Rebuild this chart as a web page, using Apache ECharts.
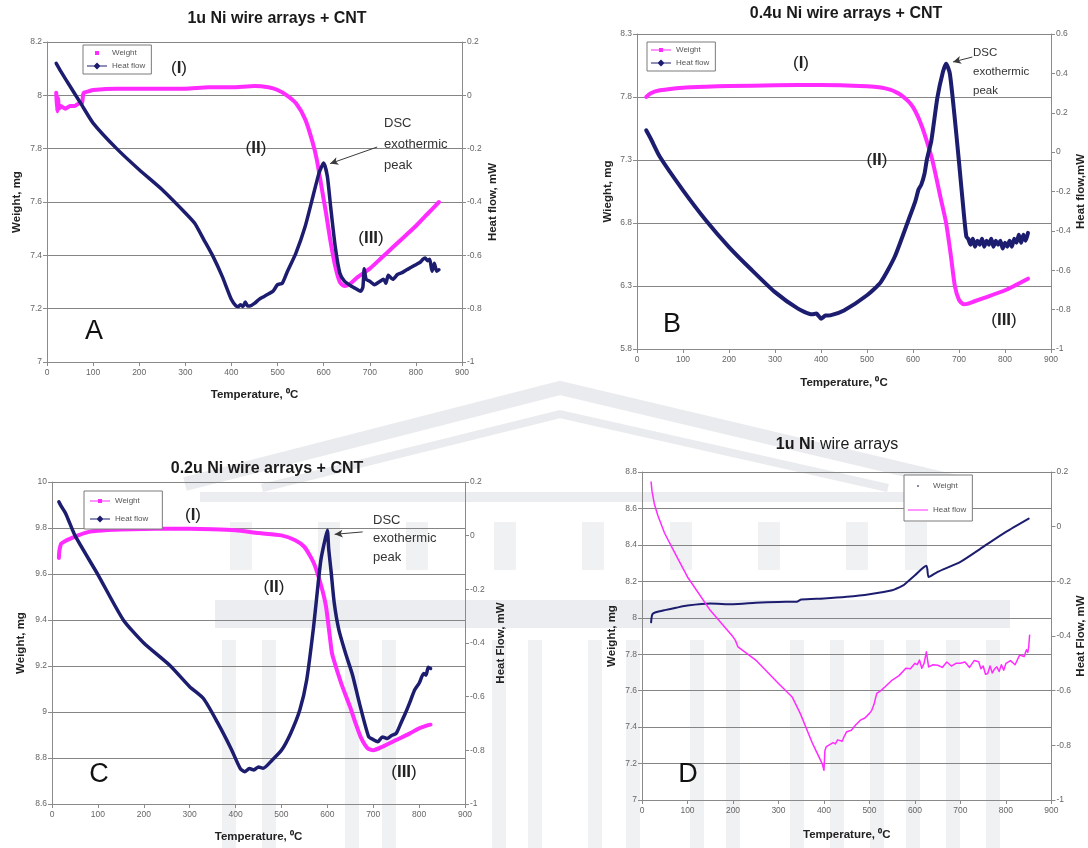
<!DOCTYPE html>
<html>
<head>
<meta charset="utf-8">
<title>Ni wire arrays - TGA / DSC</title>
<script src="https://cdn.jsdelivr.net/npm/echarts@6/dist/echarts.min.js"></script>
<style>
  html, body { margin: 0; padding: 0; background: #ffffff; }
  #chart { width: 1088px; height: 848px; }
</style>
</head>
<body>
<div id="chart"></div>
<script>
// ---------- data: temperature (°C), weight (mg), heat flow (mW) ----------
// A: 1u Ni wire arrays + CNT
const tempA_w = [20, 22, 24, 26, 30, 40, 50, 60, 70, 76, 78, 80, 90, 100, 150, 200, 250, 300, 350, 400, 450, 480, 500, 520, 540, 560, 575, 585, 595, 605, 615, 625, 635, 645, 655, 675, 700, 725, 750, 775, 800, 825, 850];
const weightA = [8.01, 7.94, 7.99, 7.95, 7.96, 7.95, 7.96, 7.96, 7.97, 7.97, 8.0, 8.01, 8.015, 8.02, 8.025, 8.025, 8.025, 8.025, 8.03, 8.03, 8.035, 8.03, 8.02, 8.0, 7.97, 7.91, 7.83, 7.76, 7.66, 7.56, 7.45, 7.36, 7.30, 7.285, 7.29, 7.32, 7.35, 7.39, 7.43, 7.47, 7.51, 7.555, 7.60];
const tempA_h = [20, 30, 50, 75, 100, 150, 200, 250, 300, 320, 340, 360, 380, 400, 410, 415, 420, 425, 430, 435, 440, 450, 460, 470, 480, 490, 500, 510, 520, 540, 560, 575, 590, 600, 608, 615, 625, 635, 645, 660, 670, 680, 685, 688, 692, 700, 710, 720, 730, 735, 740, 750, 760, 770, 780, 790, 800, 810, 815, 820, 825, 830, 835, 840, 845, 850];
const heatA = [0.12, 0.09, 0.034, -0.035, -0.104, -0.198, -0.279, -0.354, -0.441, -0.479, -0.541, -0.604, -0.679, -0.766, -0.79, -0.792, -0.785, -0.792, -0.775, -0.79, -0.79, -0.78, -0.765, -0.755, -0.745, -0.735, -0.71, -0.705, -0.666, -0.591, -0.491, -0.391, -0.291, -0.254, -0.304, -0.416, -0.566, -0.666, -0.697, -0.716, -0.725, -0.735, -0.72, -0.65, -0.69, -0.697, -0.71, -0.70, -0.69, -0.705, -0.675, -0.69, -0.672, -0.665, -0.654, -0.645, -0.635, -0.625, -0.615, -0.61, -0.62, -0.615, -0.66, -0.63, -0.66, -0.654];

// B: 0.4u Ni wire arrays + CNT
const tempB_w = [20, 30, 50, 100, 150, 200, 300, 400, 500, 530, 550, 565, 575, 590, 600, 610, 620, 630, 642, 650, 660, 672, 682, 691, 700, 710, 720, 750, 800, 850];
const weightB = [7.80, 7.83, 7.853, 7.874, 7.882, 7.887, 7.893, 7.895, 7.885, 7.875, 7.858, 7.835, 7.813, 7.765, 7.72, 7.65, 7.56, 7.45, 7.30, 7.17, 7.0, 6.80, 6.55, 6.30, 6.19, 6.155, 6.16, 6.2, 6.266, 6.358];
const tempB_h = [20, 30, 50, 100, 150, 200, 250, 300, 350, 380, 390, 400, 410, 420, 450, 500, 530, 560, 590, 605, 612, 618, 625, 630, 640, 653, 665, 672, 680, 690, 700, 710, 716, 720, 725, 730, 735, 740, 745, 750, 755, 760, 765, 770, 775, 780, 785, 790, 795, 800, 805, 810, 815, 820, 825, 830, 835, 840, 845, 850];
const heatB = [0.111, 0.068, -0.025, -0.194, -0.347, -0.482, -0.6, -0.711, -0.795, -0.824, -0.82, -0.846, -0.83, -0.829, -0.804, -0.727, -0.66, -0.533, -0.346, -0.25, -0.19, -0.165, -0.11, -0.04, 0.06, 0.277, 0.407, 0.449, 0.40, 0.19, -0.05, -0.30, -0.43, -0.44, -0.47, -0.44, -0.48, -0.45, -0.47, -0.44, -0.48, -0.45, -0.47, -0.44, -0.48, -0.45, -0.47, -0.45, -0.49, -0.46, -0.48, -0.45, -0.48, -0.44, -0.46, -0.42, -0.46, -0.42, -0.45, -0.41];

// C: 0.2u Ni wire arrays + CNT
const tempC_w = [15, 16, 18, 20, 30, 40, 60, 80, 100, 150, 200, 250, 300, 350, 400, 450, 500, 530, 550, 570, 585, 597, 609, 612, 631, 650, 660, 673, 688, 700, 720, 750, 780, 800, 820, 825];
const weightC = [9.67, 9.70, 9.72, 9.732, 9.745, 9.754, 9.77, 9.783, 9.788, 9.793, 9.796, 9.797, 9.797, 9.795, 9.79, 9.778, 9.768, 9.747, 9.718, 9.65, 9.56, 9.46, 9.27, 9.24, 9.12, 9.02, 8.96, 8.89, 8.842, 8.834, 8.849, 8.878, 8.907, 8.929, 8.943, 8.945];
const tempC_h = [15, 20, 30, 50, 100, 155, 200, 257, 300, 330, 360, 390, 410, 420, 430, 440, 450, 460, 480, 500, 520, 540, 555, 570, 580, 586, 593, 600, 603, 608, 615, 625, 640, 655, 670, 690, 700, 710, 720, 730, 740, 750, 760, 770, 780, 790, 800, 810, 815, 820, 825];
const heatC = [0.126, 0.11, 0.082, 0.001, -0.145, -0.313, -0.40, -0.484, -0.563, -0.607, -0.694, -0.793, -0.867, -0.88, -0.868, -0.873, -0.862, -0.867, -0.836, -0.80, -0.737, -0.65, -0.538, -0.34, -0.178, -0.09, -0.03, 0.02, -0.05, -0.13, -0.25, -0.35, -0.44, -0.52, -0.625, -0.749, -0.76, -0.768, -0.75, -0.756, -0.745, -0.737, -0.70, -0.662, -0.62, -0.576, -0.55, -0.514, -0.52, -0.49, -0.495];

// D: 1u Ni wire arrays (no CNT)
const tempD_w = [20, 21, 23, 30, 50, 75, 100, 150, 200, 250, 300, 340, 350, 400, 450, 500, 550, 575, 580, 600, 625, 627, 630, 650, 700, 750, 800, 850];
const weightD = [7.975, 8.0, 8.02, 8.03, 8.042, 8.055, 8.067, 8.078, 8.074, 8.082, 8.087, 8.088, 8.1, 8.106, 8.115, 8.129, 8.151, 8.179, 8.19, 8.233, 8.285, 8.27, 8.224, 8.252, 8.307, 8.389, 8.471, 8.544];
const tempD_h = [20, 22, 27, 35, 50, 75, 100, 150, 200, 205, 211, 215, 250, 300, 330, 348, 375, 396, 400, 402, 405, 410, 420, 425, 430, 440, 445, 450, 460, 470, 480, 490, 500, 505, 510, 516, 525, 535, 550, 565, 580, 590, 600, 605, 610, 615, 620, 625, 630, 640, 650, 660, 670, 680, 690, 700, 710, 720, 730, 740, 745, 750, 755, 760, 765, 770, 775, 780, 785, 790, 795, 800, 810, 820, 830, 840, 845, 848, 850, 852];
const heatD = [0.163, 0.13, 0.084, 0.04, -0.025, -0.105, -0.184, -0.306, -0.403, -0.415, -0.44, -0.445, -0.488, -0.574, -0.623, -0.684, -0.794, -0.867, -0.891, -0.82, -0.805, -0.8, -0.79, -0.795, -0.78, -0.785, -0.765, -0.75, -0.745, -0.725, -0.708, -0.70, -0.683, -0.672, -0.65, -0.61, -0.6, -0.585, -0.561, -0.545, -0.518, -0.52, -0.5, -0.505, -0.488, -0.518, -0.5, -0.458, -0.513, -0.505, -0.507, -0.515, -0.495, -0.51, -0.5, -0.5, -0.495, -0.515, -0.49, -0.494, -0.52, -0.51, -0.54, -0.537, -0.51, -0.535, -0.52, -0.513, -0.53, -0.505, -0.525, -0.5, -0.49, -0.505, -0.47, -0.475, -0.45, -0.46, -0.44, -0.397];

// axis ranges and titles
const panelTitles = ['1u Ni wire arrays + CNT', '0.4u Ni wire arrays + CNT', '0.2u Ni wire arrays + CNT', '1u Ni wire arrays'];
const weightAxisNames = ['Weight, mg', 'Wieght, mg', 'Weight, mg', 'Weight, mg'];
const heatAxisNames = ['Heat flow, mW', 'Heat flow,mW', 'Heat Flow, mW', 'Heat Flow, mW'];
const weightRanges = [[7, 8.2, 0.2], [5.8, 8.3, 0.5], [8.6, 10, 0.2], [7, 8.8, 0.2]];
const heatRanges = [[-1, 0.2, 0.2], [-1, 0.6, 0.2], [-1, 0.2, 0.2], [-1, 0.2, 0.2]];
const tempRange = [0, 900, 100];
const tempAxisName = 'Temperature, \u2070C';

// ---------- styling ----------
const MAG = '#ff2bff';
const NAVY = '#1d1d70';
const AXIS = '#8a8a8a';
const FONT = '"Liberation Sans", Arial, sans-serif';

const pairs = (xs, ys) => xs.map((x, i) => [x, ys[i]]);

// plot rectangles of the four panels
const grids = [
  { left: 47, top: 42, width: 415, height: 320 },
  { left: 637, top: 34, width: 415, height: 315 },
  { left: 52, top: 482, width: 413, height: 322 },
  { left: 642, top: 472, width: 410, height: 328 }
];
const nameGaps = [
  { x: 27, l: 24, r: 25 },
  { x: 28, l: 23, r: 24 },
  { x: 27, l: 25, r: 30 },
  { x: 29, l: 24, r: 22 }
];

const xAxes = grids.map((g, i) => ({
  type: 'value', gridIndex: i,
  min: tempRange[0], max: tempRange[1], interval: tempRange[2],
  name: tempAxisName, nameLocation: 'middle', nameGap: nameGaps[i].x,
  nameTextStyle: { fontFamily: FONT, fontWeight: 'bold', fontSize: 11.5, color: '#222' },
  axisLine: { show: true, onZero: false, lineStyle: { color: AXIS, width: 1 } },
  axisTick: { show: true, length: 4, lineStyle: { color: AXIS } },
  axisLabel: { fontFamily: FONT, fontSize: 8.5, color: '#666', margin: 6 },
  splitLine: { show: false }
}));

const yAxes = [];
grids.forEach((g, i) => {
  const w = weightRanges[i], h = heatRanges[i];
  yAxes.push({
    type: 'value', gridIndex: i, position: 'left',
    min: w[0], max: w[1], interval: w[2],
    name: weightAxisNames[i], nameLocation: 'middle', nameGap: nameGaps[i].l, nameRotate: 90,
    nameTextStyle: { fontFamily: FONT, fontWeight: 'bold', fontSize: 11.5, color: '#222' },
    axisLine: { show: true, lineStyle: { color: AXIS, width: 1 } },
    axisTick: { show: true, length: 4, lineStyle: { color: AXIS } },
    axisLabel: { fontFamily: FONT, fontSize: 8.5, color: '#666', margin: 5 },
    splitLine: { show: true, lineStyle: { color: '#858585', width: 1.2 } }
  });
  yAxes.push({
    type: 'value', gridIndex: i, position: 'right',
    min: h[0], max: h[1], interval: h[2],
    name: heatAxisNames[i], nameLocation: 'middle', nameGap: nameGaps[i].r, nameRotate: 90,
    nameTextStyle: { fontFamily: FONT, fontWeight: 'bold', fontSize: 11.5, color: '#222' },
    axisLine: { show: true, lineStyle: { color: AXIS, width: 1 } },
    axisTick: { show: true, length: 4, lineStyle: { color: AXIS } },
    axisLabel: { fontFamily: FONT, fontSize: 8.5, color: '#666', margin: 5 },
    splitLine: { show: false }
  });
});

// legend glyphs (outer move-points keep every glyph on the same 20x10 box)
const BOX = 'M0,0 M20,10 ';
const ICON_SQUARE = 'path://' + BOX + 'M8,3 L12,3 L12,7 L8,7 Z';
const ICON_DOT = 'path://' + BOX + 'M9.3,4.3 L10.7,4.3 L10.7,5.7 L9.3,5.7 Z';
const ICON_LINE = 'path://' + BOX + 'M0,4.5 L20,4.5 L20,5.5 L0,5.5 Z';
const ICON_LINE_DIAMOND = 'path://' + BOX + 'M0,4.5 L7,4.5 L10,1.5 L13,4.5 L20,4.5 L20,5.5 L13,5.5 L10,8.5 L7,5.5 L0,5.5 Z';
const ICON_LINE_SQUARE = 'path://' + BOX + 'M0,4.5 L8,4.5 L8,3 L12,3 L12,4.5 L20,4.5 L20,5.5 L12,5.5 L12,7 L8,7 L8,5.5 L0,5.5 Z';

const legendBase = {
  orient: 'vertical', itemWidth: 20, itemHeight: 10, selectedMode: false,
  borderColor: '#7a7a7a', borderWidth: 1, borderRadius: 0, backgroundColor: '#ffffff',
  formatter: n => n.split('#')[0],
  textStyle: { fontFamily: FONT, fontSize: 8, color: '#555' }
};
const legends = [
  Object.assign({}, legendBase, { left: 83, top: 45, itemGap: 3, padding: [3, 6, 3, 4],
    data: [{ name: 'Weight#A', icon: ICON_SQUARE }, { name: 'Heat flow#A', icon: ICON_LINE_DIAMOND }] }),
  Object.assign({}, legendBase, { left: 647, top: 42, itemGap: 3, padding: [3, 6, 3, 4],
    data: [{ name: 'Weight#B', icon: ICON_LINE_SQUARE }, { name: 'Heat flow#B', icon: ICON_LINE_DIAMOND }] }),
  Object.assign({}, legendBase, { left: 84, top: 491, itemGap: 8, padding: [5, 14, 5, 6],
    data: [{ name: 'Weight#C', icon: ICON_LINE_SQUARE }, { name: 'Heat flow#C', icon: ICON_LINE_DIAMOND }] }),
  Object.assign({}, legendBase, { left: 904, top: 475, itemGap: 14, padding: [6, 6, 6, 4],
    data: [{ name: 'Weight#D', icon: ICON_DOT }, { name: 'Heat flow#D', icon: ICON_LINE }] })
];

function lineSeries(name, idx, yIdx, data, color, width, extra) {
  return Object.assign({
    name: name, type: 'line', xAxisIndex: idx, yAxisIndex: yIdx, data: data,
    showSymbol: false, symbol: 'none', smooth: 0.2, silent: true,
    color: color, lineStyle: { color: color, width: width, join: 'round', cap: 'round' },
    itemStyle: { color: color }, z: 3
  }, extra || {});
}

function peakArrow(from, to) {
  return {
    silent: true, symbol: ['none', 'arrow'], symbolSize: [6, 8],
    label: { show: false },
    lineStyle: { color: '#3a3a3a', width: 1, type: 'solid' },
    data: [[{ coord: from }, { coord: to }]]
  };
}

const series = [
  lineSeries('Weight#A', 0, 0, pairs(tempA_w, weightA), MAG, 4),
  lineSeries('Heat flow#A', 0, 1, pairs(tempA_h, heatA), NAVY, 3.5,
    { markLine: peakArrow([716, -0.194], [614, -0.256]) }),
  lineSeries('Weight#B', 1, 2, pairs(tempB_w, weightB), MAG, 4),
  lineSeries('Heat flow#B', 1, 3, pairs(tempB_h, heatB), NAVY, 4,
    { markLine: peakArrow([729, 0.483], [687, 0.458]) }),
  lineSeries('Weight#C', 2, 4, pairs(tempC_w, weightC), MAG, 4),
  lineSeries('Heat flow#C', 2, 5, pairs(tempC_h, heatC), NAVY, 3.5,
    { markLine: peakArrow([677, 0.014], [616, 0.005]) }),
  lineSeries('Weight#D', 3, 6, pairs(tempD_w, weightD), NAVY, 2),
  lineSeries('Heat flow#D', 3, 7, pairs(tempD_h, heatD), MAG, 1.5, { smooth: false })
];

// panel titles
const titles = [
  { left: 277, top: 11, text: panelTitles[0] },
  { left: 846, top: 6, text: panelTitles[1] },
  { left: 267, top: 461, text: panelTitles[2] }
].map(t => ({
  left: t.left, top: t.top, text: t.text, textAlign: 'center', padding: 0,
  textStyle: { fontFamily: FONT, fontWeight: 'bold', fontSize: 16, color: '#1a1a1a' }
}));
titles.push({
  left: 837, top: 436, textAlign: 'center', padding: 0,
  text: '{b|1u Ni} {n|wire arrays}',
  textStyle: { rich: {
    b: { fontFamily: FONT, fontWeight: 'bold', fontSize: 16, color: '#1a1a1a' },
    n: { fontFamily: FONT, fontWeight: 'normal', fontSize: 16, color: '#1a1a1a' }
  } }
});

// annotation texts
function roman(label, x, y) {
  return {
    type: 'text', x: x, y: y, z: 50, silent: true,
    style: {
      text: '{p|(}{b|' + label + '}{p|)}', align: 'center', verticalAlign: 'middle',
      textAlign: 'center', textVerticalAlign: 'middle',
      rich: {
        p: { fontFamily: FONT, fontSize: 17, fill: '#222', color: '#222' },
        b: { fontFamily: FONT, fontSize: 17, fontWeight: 'bold', fill: '#222', color: '#222' }
      }
    }
  };
}
function dscNote(x, y, size, lh) {
  return {
    type: 'text', x: x, y: y, z: 50, silent: true,
    style: {
      text: 'DSC\nexothermic\npeak', fill: '#333', fontFamily: FONT, fontSize: size,
      lineHeight: lh, align: 'left', verticalAlign: 'top', textAlign: 'left', textVerticalAlign: 'top'
    }
  };
}
function letter(ch, x, y) {
  return {
    type: 'text', x: x, y: y, z: 50, silent: true,
    style: {
      text: ch, fill: '#111', fontFamily: FONT, fontSize: 27,
      align: 'center', verticalAlign: 'middle', textAlign: 'center', textVerticalAlign: 'middle'
    }
  };
}

// faint building emblem in the lower half of the page
const WM = '#b9bdc8';
const wmStyle = { fill: WM, opacity: 0.28 };
const wmLine = { stroke: WM, opacity: 0.3, fill: null };
const watermark = [
  { type: 'polyline', z: -5, silent: true, shape: { points: [[185, 484], [560, 388], [965, 484]] }, style: Object.assign({ lineWidth: 14 }, wmLine) },
  { type: 'polyline', z: -5, silent: true, shape: { points: [[262, 488], [560, 414], [888, 488]] }, style: Object.assign({ lineWidth: 8 }, wmLine) },
  { type: 'rect', z: -5, silent: true, shape: { x: 200, y: 492, width: 755, height: 10 }, style: wmStyle },
  { type: 'rect', z: -5, silent: true, shape: { x: 215, y: 600, width: 795, height: 28 }, style: wmStyle }
];
[230, 318, 406, 494, 582, 670, 758, 846, 905].forEach(x => {
  watermark.push({ type: 'rect', z: -5, silent: true, shape: { x: x, y: 522, width: 22, height: 48 }, style: { fill: WM, opacity: 0.22 } });
});
[222, 262, 345, 382, 492, 528, 588, 626, 690, 726, 790, 830, 870, 906, 946, 986].forEach(x => {
  watermark.push({ type: 'rect', z: -5, silent: true, shape: { x: x, y: 640, width: 14, height: 208 }, style: { fill: WM, opacity: 0.22 } });
});

const graphics = watermark.concat([
  roman('I', 179, 68), roman('II', 256, 148), roman('III', 371, 238),
  dscNote(384, 113, 13, 21), letter('A', 94, 332),
  roman('I', 801, 63), roman('II', 877, 160), roman('III', 1004, 320),
  dscNote(973, 43, 11.5, 19), letter('B', 672, 325),
  roman('I', 193, 515), roman('II', 274, 587), roman('III', 404, 772),
  dscNote(373, 511, 13, 18.5), letter('C', 99, 775),
  letter('D', 688, 775)
]);

const chart = echarts.init(document.getElementById('chart'), null, { renderer: 'canvas', width: 1088, height: 848 });
chart.setOption({
  backgroundColor: '#ffffff',
  animation: false,
  title: titles,
  legend: legends,
  grid: grids.map(g => Object.assign({ containLabel: false, show: false }, g)),
  xAxis: xAxes,
  yAxis: yAxes,
  series: series,
  graphic: { elements: graphics }
});
</script>
</body>
</html>
